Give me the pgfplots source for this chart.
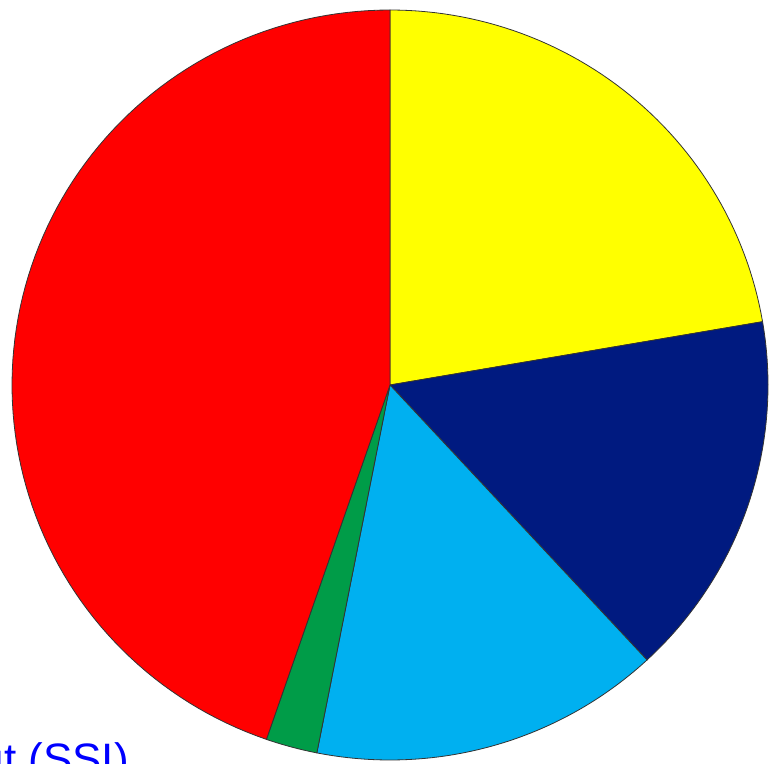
\documentclass[border=0pt]{standalone}
\usepackage{pgfplots}
\pgfplotsset{compat=1.18}
\usepackage{fontspec}
\setmainfont{Liberation Sans}
\definecolor{pyellow}{RGB}{255,255,0}
\definecolor{pnavy}{RGB}{0,26,128}
\definecolor{pblue}{RGB}{0,176,240}
\definecolor{pgreen}{RGB}{0,156,72}
\definecolor{pred}{RGB}{255,0,0}
\def\cx{390}\def\cy{378}\def\rx{378}\def\ry{375}
% slice shares in percent (clockwise from 12 o'clock)
\def\Syellow{22.3}
\def\Snavy{15.8}
\def\Sblue{15.0}
\def\Sgreen{2.2}
\def\Sred{44.7}
\pgfmathsetmacro\aA{90}
\pgfmathsetmacro\aB{\aA-3.6*\Syellow}
\pgfmathsetmacro\aC{\aB-3.6*\Snavy}
\pgfmathsetmacro\aD{\aC-3.6*\Sblue}
\pgfmathsetmacro\aE{\aD-3.6*\Sgreen}
\pgfmathsetmacro\aF{\aE-3.6*\Sred}
\begin{document}
\begin{tikzpicture}
\useasboundingbox (0,0) rectangle (775pt,763pt);
\begin{axis}[
  at={(0,0)}, anchor=south west,
  width=775pt, height=763pt, scale only axis,
  xmin=0, xmax=775, ymin=0, ymax=763,
  hide axis, clip=false,
]
\addplot[fill=pyellow, draw=black!80, line width=0.8pt, domain=\aB:\aA, samples=60, variable=\t]
  ({\cx+\rx*cos(\t)},{\cy+\ry*sin(\t)}) -- (axis cs:\cx,\cy) -- cycle;
\addplot[fill=pnavy, draw=black!80, line width=0.8pt, domain=\aC:\aB, samples=60, variable=\t]
  ({\cx+\rx*cos(\t)},{\cy+\ry*sin(\t)}) -- (axis cs:\cx,\cy) -- cycle;
\addplot[fill=pblue, draw=black!80, line width=0.8pt, domain=\aD:\aC, samples=60, variable=\t]
  ({\cx+\rx*cos(\t)},{\cy+\ry*sin(\t)}) -- (axis cs:\cx,\cy) -- cycle;
\addplot[fill=pgreen, draw=black!80, line width=0.8pt, domain=\aE:\aD, samples=20, variable=\t]
  ({\cx+\rx*cos(\t)},{\cy+\ry*sin(\t)}) -- (axis cs:\cx,\cy) -- cycle;
\addplot[fill=pred, draw=black!80, line width=0.8pt, domain=\aF:\aE, samples=100, variable=\t]
  ({\cx+\rx*cos(\t)},{\cy+\ry*sin(\t)}) -- (axis cs:\cx,\cy) -- cycle;
\end{axis}
\node[anchor=base east, text=blue, font=\fontsize{44}{50}\selectfont, inner sep=0pt] at (129pt,-11.5pt) {ut (SSI)};
\end{tikzpicture}
\end{document}
